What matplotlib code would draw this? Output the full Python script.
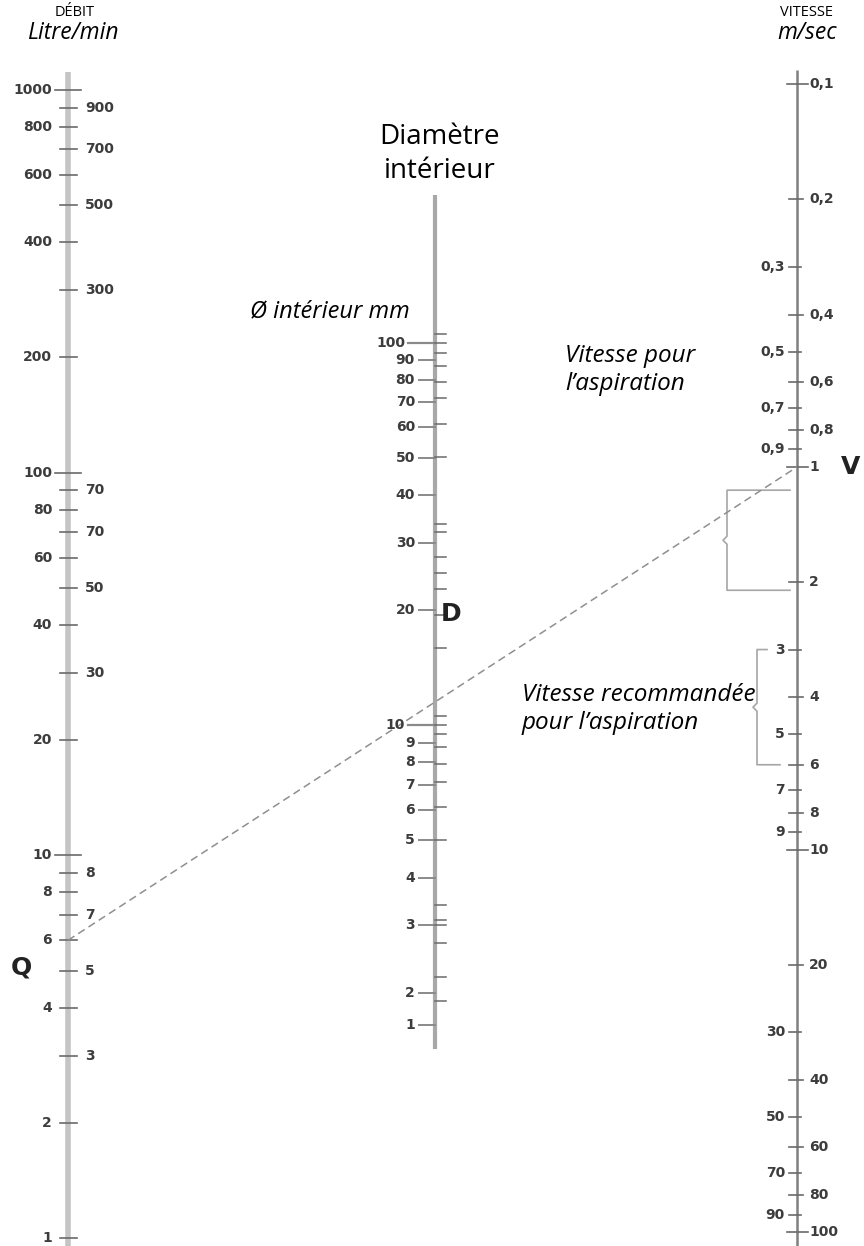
import numpy as np
import matplotlib.pyplot as plt

# débit Q, litre/min (left scale)
q_left = [1000, 800, 600, 400, 200, 100, 80, 60, 40, 20, 10, 8, 6, 4, 2, 1]
q_right = [900, 700, 500, 300, 90, 70, 50, 30, 9, 7, 5, 3]
q_right_txt = ["900", "700", "500", "300", "70", "70", "50", "30", "8", "7", "5", "3"]
q_major = [1000, 100, 10]

# vitesse V, m/sec (right scale)
v_left = [0.3, 0.5, 0.7, 0.9, 3, 5, 7, 9, 30, 50, 70, 90]
v_left_txt = ["0,3", "0,5", "0,7", "0,9", "3", "5", "7", "9", "30", "50", "70", "90"]
v_right = [0.1, 0.2, 0.4, 0.6, 0.8, 1, 2, 4, 6, 8, 10, 20, 40, 60, 80, 100]
v_right_txt = ["0,1", "0,2", "0,4", "0,6", "0,8", "1", "2", "4", "6", "8", "10",
               "20", "40", "60", "80", "100"]
v_major = [0.1, 1, 10, 100]

# diamètre intérieur D, mm (middle scale)
d_labels = ["100", "90", "80", "70", "60", "50", "40", "30", "20",
            "10", "9", "8", "7", "6", "5", "4", "3", "2", "1"]
# the printed "1" sits well above its true place on the original
d_label_at = [100, 90, 80, 70, 60, 50, 40, 30, 20, 10, 9, 8, 7, 6, 5, 4, 3, 2, 1.65]
d_major = ["100", "10"]
d_marks = [105.6, 100, 94.1, 87.0, 79.0, 71.7, 61.2, 50.1, 33.6, 32.0, 27.5, 25.0,
           22.7, 19.4, 15.9, 10.6, 10.0, 9.5, 8.8, 7.9, 7.1, 6.1, 5.0, 3.4, 3.1,
           3.0, 2.7, 2.2, 1.9]

# example reading
q_example = 6
v_example = 1

# velocity ranges marked with braces
v_asp = [1.15, 2.1]
v_rec = [3, 6]

# ---- layout (pixel based) ----
W, H = 864, 1246
PX = 382.7                     # pixels per decade
U_TOP = 3 + 90 / PX            # 1000 l/min sits 90 px from the top
U_BOT = U_TOP - H / PX
X_Q, X_D, X_V = 68, 435, 797
V_OFF = 2.015
D_OFF = 0.34


def u_q(q):
    return np.log10(q)


def u_v(v):
    return V_OFF - np.log10(v)


def u_d(d):
    return D_OFF + np.log10(d)


def py(p):
    return U_TOP - p / PX


fig = plt.figure(figsize=(W / 100, H / 100), dpi=100)
ax = fig.add_axes([0, 0, 1, 1])
ax.set_xlim(0, W)
ax.set_ylim(U_BOT, U_TOP)
ax.axis("off")

lab = dict(fontsize=10, fontweight="bold", color="#3c3c3c", family="DejaVu Sans",
           va="center")
tick_c = "#6a6a6a"

# Q scale
ax.plot([X_Q, X_Q], [u_q(1115), U_BOT], color="#c4c4c4", lw=4, solid_capstyle="butt")
for q in q_left:
    h = 13 if q in q_major else 8.5
    ax.plot([X_Q - h, X_Q + h], [u_q(q)] * 2, color=tick_c, lw=1.2)
    ax.text(X_Q - 16, u_q(q), str(q), ha="right", **lab)
for q, t in zip(q_right, q_right_txt):
    ax.plot([X_Q - 8.5, X_Q + 8.5], [u_q(q)] * 2, color=tick_c, lw=1.2)
    ax.text(X_Q + 17, u_q(q), t, ha="left", **lab)

# D scale
ax.plot([X_D, X_D], [u_d(243), u_d(1.43)], color="#a8a8a8", lw=3, solid_capstyle="butt")
for t, d in zip(d_labels, d_label_at):
    if t in d_major:
        ax.plot([X_D - 27, X_D], [u_d(d)] * 2, color="#8a8a8a", lw=1.6)
        ax.text(X_D - 30, u_d(d), t, ha="right", **lab)
    else:
        ax.plot([X_D - 16, X_D], [u_d(d)] * 2, color="#8a8a8a", lw=1.4)
        ax.text(X_D - 20, u_d(d), t, ha="right", **lab)
for d in d_marks:
    ax.plot([X_D, X_D + 11], [u_d(d)] * 2, color="#6a6a6a", lw=1.1)

# V scale
ax.plot([X_V, X_V], [u_v(0.092), U_BOT], color="#808080", lw=1.8, solid_capstyle="butt")
for v, t in zip(v_right, v_right_txt):
    a, b = (10, 11) if v in v_major else (8, 6)
    ax.plot([X_V - a, X_V + b], [u_v(v)] * 2, color=tick_c, lw=1.2)
    ax.text(X_V + 12, u_v(v), t, ha="left", **lab)
for v, t in zip(v_left, v_left_txt):
    ax.plot([X_V - 8, X_V + 4], [u_v(v)] * 2, color=tick_c, lw=1.2)
    ax.text(X_V - 12, u_v(v), t, ha="right", **lab)

# braces


def brace(x, v0, v1, x_top, x_bot):
    y0, y1 = u_v(v0), u_v(v1)
    ym = (y0 + y1) / 2
    e = 4 / PX
    xs = [x_top, x, x, x - 4, x, x, x_bot]
    ys = [y0, y0, ym + e, ym, ym - e, y1, y1]
    ax.plot(xs, ys, color="#a6a6a6", lw=1.2)


brace(727, v_asp[0], v_asp[1], 790, 790)
brace(757, v_rec[0], v_rec[1], 767, 780)

# example line
ax.plot([X_Q, X_V], [u_q(q_example), u_v(v_example)], color="#8f8f8f", lw=1.1,
        ls=(0, (5, 3)))

# texts
sans = "Open Sans"
ax.text(75, py(13), "DÉBIT", ha="center", va="center", fontsize=10.5, family=sans)
ax.text(73, py(33), "Litre/min", ha="center", va="center", fontsize=16.5,
        style="italic", family=sans)
ax.text(806, py(13), "VITESSE", ha="center", va="center", fontsize=10.5, family=sans)
ax.text(807, py(33), "m/sec", ha="center", va="center", fontsize=16.5,
        style="italic", family=sans)
ax.text(440, py(154), "Diamètre\nintérieur", ha="center", va="center",
        fontsize=20, family=sans, linespacing=1.3)
ax.text(250, py(311), "Ø intérieur mm", ha="left", va="center", fontsize=17,
        style="italic", family=sans)
ax.text(565, py(370), "Vitesse pour\nl’aspiration", ha="left", va="center",
        fontsize=17.5, style="italic", family=sans, linespacing=1.2)
ax.text(522, py(709), "Vitesse recommandée\npour l’aspiration", ha="left",
        va="center", fontsize=17.5, style="italic", family=sans, linespacing=1.2)

big = dict(fontsize=18, fontweight="bold", family="DejaVu Sans", color="#222222",
           ha="center", va="center")
ax.text(21, py(968), "Q", **big)
ax.text(451, py(614), "D", **big)
ax.text(851, py(467), "V", **big)

fig.savefig("out.png", dpi=100)
